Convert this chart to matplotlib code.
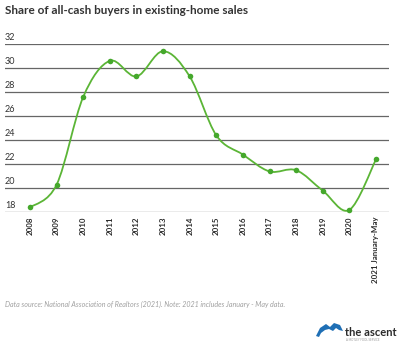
import matplotlib
matplotlib.use("Agg")
import matplotlib.pyplot as plt
import numpy as np
from matplotlib.path import Path
from matplotlib.patches import PathPatch, Polygon

# Data
years = ["2008", "2009", "2010", "2011", "2012", "2013", "2014",
         "2015", "2016", "2017", "2018", "2019", "2020", "2021 January-May"]
share = [18.4, 20.3, 27.6, 30.6, 29.3, 31.4, 29.3,
         24.4, 22.8, 21.4, 21.5, 19.8, 18.2, 22.4]
yticks = [18, 20, 22, 24, 26, 28, 30, 32]

title = "Share of all-cash buyers in existing-home sales"
note = "Data source: National Association of Realtors (2021). Note: 2021 includes January - May data."

GREEN = "#5bb536"
DOT = "#45a82c"


def spline_path(x, y):
    # Catmull-Rom style bezier through the points
    x = np.asarray(x, float)
    y = np.asarray(y, float)
    pts = np.column_stack([x, y])
    n = len(pts)
    verts = [pts[0]]
    codes = [Path.MOVETO]
    for i in range(n - 1):
        p0 = pts[i - 1] if i > 0 else pts[i]
        p1 = pts[i]
        p2 = pts[i + 1]
        p3 = pts[i + 2] if i + 2 < n else pts[i + 1]
        c1 = p1 + (p2 - p0) / 6.0
        c2 = p2 - (p3 - p1) / 6.0
        verts += [c1, c2, p2]
        codes += [Path.CURVE4] * 3
    return Path(verts, codes)


def main():
    plt.rcParams["font.family"] = ["Lato", "DejaVu Sans"]
    fig = plt.figure(figsize=(4.0, 3.45), dpi=100)
    ax = fig.add_axes([5 / 400, 1 - 212.3 / 345, 384 / 400, (212.3 - 44) / 345])

    xs = np.arange(len(years))
    ax.set_xlim(-25 / 26.6, 13 + 13 / 26.6)
    ax.set_ylim(18, 32)

    for v in yticks:
        ax.axhline(v, color="#666666", lw=0.9, zorder=1)
        ax.text(0, v + 0.15, str(v), transform=ax.get_yaxis_transform(),
                ha="left", va="bottom", fontsize=6.5, color="#333333")

    patch = PathPatch(spline_path(xs, share), fill=False, edgecolor=GREEN,
                      lw=1.3, zorder=3, clip_on=False)
    ax.add_patch(patch)
    ax.scatter(xs, share, s=16, color=DOT, zorder=4, clip_on=False, linewidths=0)

    ax.set_xticks(xs)
    ax.set_xticklabels(years, rotation=90, fontsize=5.7, fontweight="bold",
                       color="#2b2b2b", va="top")
    ax.tick_params(axis="x", length=0, pad=3)
    ax.set_yticks([])
    for s in ax.spines.values():
        s.set_visible(False)
    ax.patch.set_alpha(0)

    fig.text(5 / 400, 1 - 10 / 345, title, fontsize=8.5, fontweight="bold",
             color="#333333", ha="left", va="center")
    fig.text(5 / 400, 1 - 304 / 345, note, fontsize=5.1, style="italic",
             color="#a0a0a0", ha="left", va="center")

    # logo, pixel coords with top-left origin
    hat_px = [(316, 336), (320, 328), (326, 324), (330, 327), (334, 323),
              (340, 325), (343, 331), (339, 330), (336, 328), (333, 331),
              (329, 329), (325, 330), (321, 333), (319, 337)]
    hat = Polygon([(px, 345 - py) for px, py in hat_px], closed=True,
                  transform=None, facecolor="#1f6fb5", edgecolor="none")
    fig.add_artist(hat)
    fig.text(345 / 400, 1 - 332 / 345, "the ascent", fontsize=8, fontweight="bold",
             color="#2b2b2b", ha="left", va="center")
    fig.text(346 / 400, 1 - 340 / 345, "A MOTLEY FOOL SERVICE", fontsize=2,
             color="#999999", ha="left", va="center")

    fig.savefig("out.png", dpi=100)
    plt.close(fig)


if __name__ == "__main__":
    main()
